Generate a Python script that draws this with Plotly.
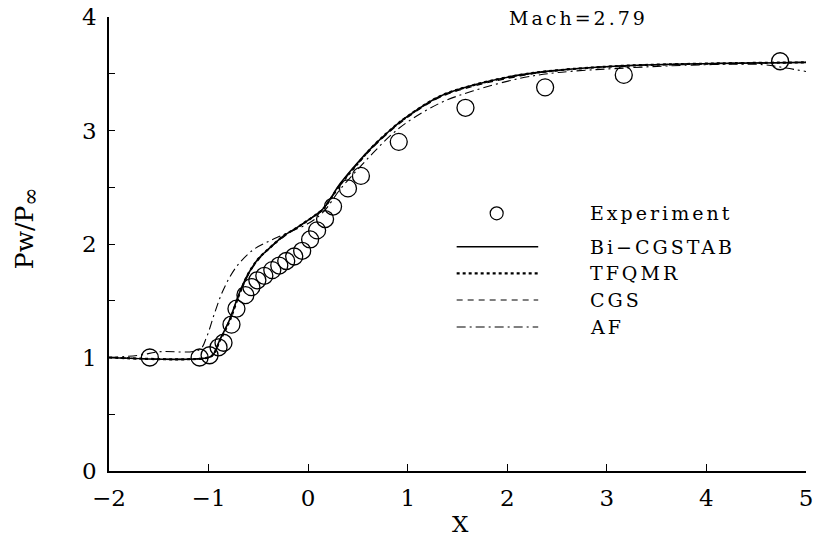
import plotly.graph_objects as go

# Wall pressure ratio along the ramp, Mach 2.79
exp_x = [-1.59, -1.09, -0.99, -0.90, -0.85, -0.77, -0.72, -0.63, -0.57, -0.51,
         -0.44, -0.36, -0.29, -0.22, -0.14, -0.06, 0.02, 0.09, 0.17, 0.25,
         0.40, 0.53, 0.91, 1.58, 2.38, 3.17, 4.74]
exp_y = [1.00, 1.00, 1.02, 1.09, 1.13, 1.29, 1.43, 1.55, 1.62, 1.68,
         1.72, 1.77, 1.81, 1.85, 1.89, 1.94, 2.04, 2.12, 2.22, 2.33,
         2.49, 2.60, 2.90, 3.20, 3.38, 3.49, 3.61]

bicg_x = [-2.0, -1.0, -0.95, -0.89, -0.79, -0.69, -0.60, -0.50, -0.38, -0.25,
          -0.12, 0.0, 0.15, 0.32, 0.49, 0.65, 0.82, 0.99, 1.32, 1.66,
          2.13, 2.50, 3.17, 4.06, 5.0]
bicg_y = [1.0, 1.0, 1.03, 1.15, 1.33, 1.57, 1.74, 1.87, 1.97, 2.07,
          2.14, 2.21, 2.31, 2.53, 2.71, 2.86, 3.00, 3.12, 3.30, 3.40,
          3.49, 3.53, 3.57, 3.59, 3.60]

tfqmr_x = [-2.0, -1.0, -0.95, -0.89, -0.79, -0.69, -0.60, -0.50, -0.38, -0.25,
           -0.12, 0.0, 0.15, 0.32, 0.49, 0.65, 0.82, 0.99, 1.32, 1.66,
           2.13, 2.50, 3.17, 4.06, 5.0]
tfqmr_y = [1.0, 1.0, 1.03, 1.14, 1.32, 1.56, 1.74, 1.87, 1.97, 2.07,
           2.14, 2.21, 2.31, 2.52, 2.70, 2.86, 3.00, 3.12, 3.30, 3.40,
           3.49, 3.53, 3.57, 3.59, 3.60]

cgs_x = [-2.0, -1.0, -0.95, -0.89, -0.79, -0.69, -0.60, -0.50, -0.38, -0.25,
         -0.12, 0.0, 0.15, 0.32, 0.49, 0.65, 0.82, 0.99, 1.32, 1.66,
         2.13, 2.50, 3.17, 4.06, 5.0]
cgs_y = [1.0, 1.0, 1.03, 1.15, 1.33, 1.56, 1.73, 1.86, 1.97, 2.06,
         2.14, 2.21, 2.31, 2.52, 2.70, 2.85, 2.99, 3.11, 3.29, 3.39,
         3.48, 3.53, 3.57, 3.59, 3.60]

af_x = [-2.0, -1.7, -1.5, -1.09, -1.02, -0.94, -0.85, -0.72, -0.55, -0.38,
        -0.20, 0.0, 0.15, 0.32, 0.49, 0.65, 0.82, 0.99, 1.32, 1.66,
        2.13, 2.50, 3.17, 4.0, 4.57, 4.80, 5.0]
af_y = [1.0, 1.02, 1.05, 1.07, 1.18, 1.39, 1.60, 1.80, 1.95, 2.03,
        2.10, 2.18, 2.28, 2.48, 2.65, 2.80, 2.95, 3.07, 3.24, 3.35,
        3.46, 3.51, 3.55, 3.58, 3.58, 3.55, 3.52]

series_names = ["Experiment", "Bi\u2212CGSTAB", "TFQMR", "CGS", "AF"]

FONT = "DejaVu Serif"
INK = "black"


def spaced(text, gap=3):
    """Wrap a label in a span with extra letter spacing."""
    return f"<span style='letter-spacing:{gap}px'>{text}</span>"


fig = go.Figure()

fig.add_trace(go.Scatter(x=bicg_x, y=bicg_y, mode="lines", line_shape="spline",
                         line=dict(color=INK, width=1.6), name=series_names[1]))
fig.add_trace(go.Scatter(x=tfqmr_x, y=tfqmr_y, mode="lines", line_shape="spline",
                         line=dict(color=INK, width=2.2, dash="dot"), name=series_names[2]))
fig.add_trace(go.Scatter(x=cgs_x, y=cgs_y, mode="lines", line_shape="spline",
                         line=dict(color=INK, width=1.2, dash="6px,5px"), name=series_names[3]))
fig.add_trace(go.Scatter(x=af_x, y=af_y, mode="lines", line_shape="spline",
                         line=dict(color=INK, width=1.1, dash="9px,4px,2px,4px"), name=series_names[4]))
fig.add_trace(go.Scatter(x=exp_x, y=exp_y, mode="markers",
                         marker=dict(symbol="circle-open", size=17, color=INK,
                                     line=dict(width=1.3, color=INK)),
                         name=series_names[0]))

# Hand-built key: sample strokes on the left, labels on the right
key_rows = [0.5676, 0.4941, 0.4355, 0.3767, 0.3172]
key_x0, key_x1, key_text_x, key_mark_x = 0.4988, 0.6158, 0.6877, 0.5562
key_styles = [None,
              dict(width=1.6, dash="solid"),
              dict(width=2.2, dash="dot"),
              dict(width=1.2, dash="6px,5px"),
              dict(width=1.1, dash="9px,4px,2px,4px")]

shapes = []
annotations = []
for name, row, style in zip(series_names, key_rows, key_styles):
    if style is None:
        shapes.append(dict(type="circle", xref="paper", yref="paper",
                           xsizemode="pixel", ysizemode="pixel",
                           xanchor=key_mark_x, yanchor=row,
                           x0=-6.5, x1=6.5, y0=-6.5, y1=6.5,
                           line=dict(color=INK, width=1.2)))
    else:
        shapes.append(dict(type="line", xref="paper", yref="paper",
                           x0=key_x0, x1=key_x1, y0=row, y1=row,
                           line=dict(color=INK, **style)))
    annotations.append(dict(x=key_text_x, y=row, xref="paper", yref="paper",
                            text=spaced(name), showarrow=False, xanchor="left",
                            yanchor="middle",
                            font=dict(family=FONT, size=19, color=INK)))

annotations.append(dict(x=0.6733, y=0.9971, xref="paper", yref="paper",
                        text=spaced("Mach=2.79"), showarrow=False, xanchor="center",
                        yanchor="middle", font=dict(family=FONT, size=19, color=INK)))
annotations.append(dict(x=-0.119, y=0.535, xref="paper", yref="paper",
                        text="Pw/P<sub><span style='font-size:22px'>\u221e</span></sub>",
                        textangle=-90, showarrow=False,
                        xanchor="center", yanchor="middle",
                        font=dict(family=FONT, size=25, color=INK)))
annotations.append(dict(x=0.5036, y=-0.1167, xref="paper", yref="paper",
                        text="X", showarrow=False, xanchor="center",
                        yanchor="middle", font=dict(family=FONT, size=23, color=INK)))

fig.update_layout(
    width=815, height=543,
    margin=dict(l=109, r=9, t=17, b=72, autoexpand=False),
    paper_bgcolor="white", plot_bgcolor="white",
    showlegend=False,
    shapes=shapes,
    annotations=annotations,
    font=dict(family=FONT, size=22, color=INK),
)

fig.update_xaxes(range=[-2, 5], tickvals=[-2, -1, 0, 1, 2, 3, 4, 5],
                 automargin=False,
                 showline=True, linecolor=INK, linewidth=1.6,
                 ticks="inside", ticklen=7, tickwidth=1.2, tickcolor=INK,
                 ticklabelstandoff=6,
                 showgrid=False, zeroline=False,
                 tickfont=dict(family=FONT, size=23, color=INK))
fig.update_yaxes(range=[0, 4], tickvals=[0, 1, 2, 3, 4],
                 automargin=False,
                 showline=True, linecolor=INK, linewidth=1.6,
                 ticks="inside", ticklen=6, tickwidth=1.2, tickcolor=INK,
                 ticklabelstandoff=6,
                 minor=dict(dtick=0.5, ticks="inside", ticklen=6,
                            tickwidth=1.2, tickcolor=INK, showgrid=False),
                 showgrid=False, zeroline=False,
                 tickfont=dict(family=FONT, size=23, color=INK))

fig.write_html("out.html")
